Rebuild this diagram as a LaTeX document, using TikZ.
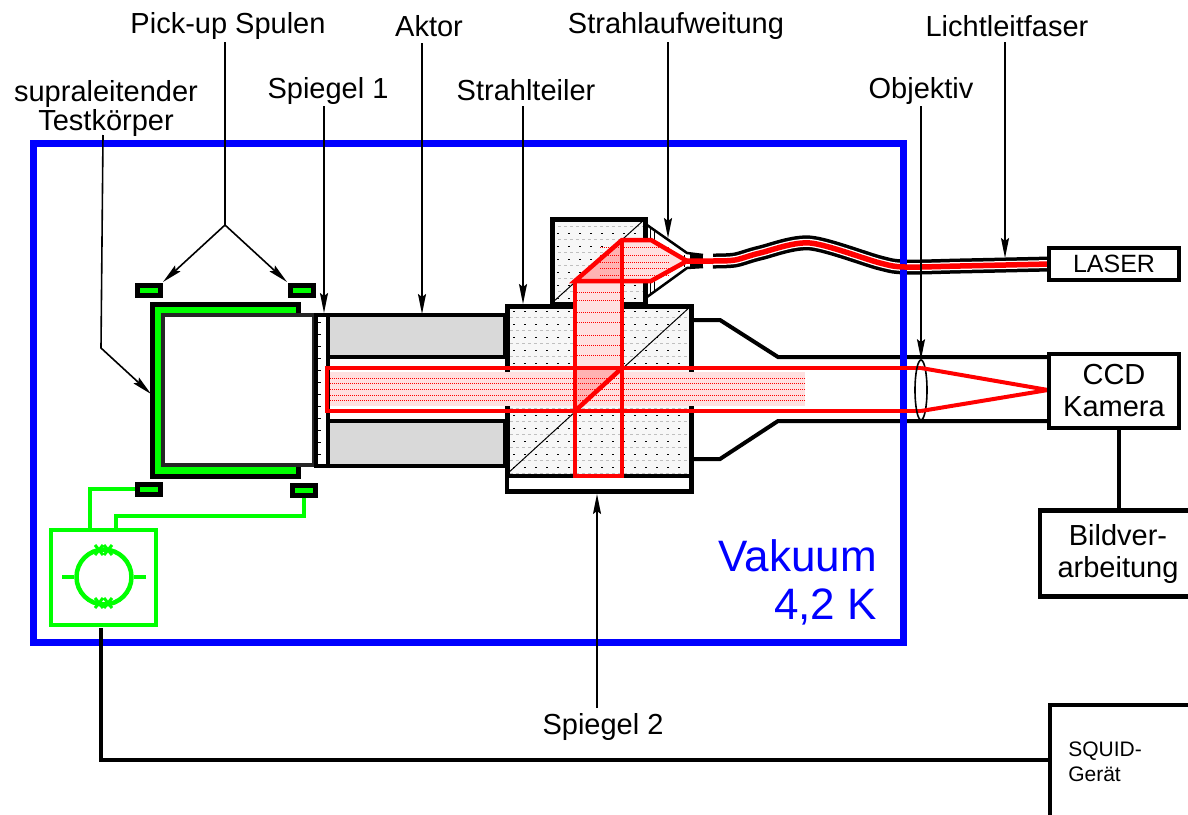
\documentclass[tikz,border=0pt]{standalone}
\usepackage{fontspec}
\setmainfont{Liberation Sans}
\usetikzlibrary{arrows.meta,shapes.geometric}
\definecolor{lasered}{RGB}{255,0,0}
\definecolor{coilgreen}{RGB}{0,255,0}
\definecolor{vacblue}{RGB}{0,0,255}
\begin{document}
\begin{tikzpicture}[
  x=1pt,y=-1pt,
  >={Stealth[length=20pt,width=8pt,inset=3pt]},
  lbl/.style={inner sep=0pt,font=\fontsize{29}{29}\selectfont,align=center},
  pointer/.style={line width=1.6pt},
  box/.style={draw,line width=4.5pt,fill=white,inner sep=0pt,align=center,font=\fontsize{29}{32}\selectfont},
  wall/.style={line width=4pt,black},
  glass/.style={draw=black,line width=5pt,fill=black!3,path picture={
    \foreach \yy in {220,233,...,490} {
      \draw[black,line width=0.9pt,dash pattern=on 2pt off 9pt] (480,\yy)--(720,\yy);
      \draw[black!25,line width=1pt,dash pattern=on 3pt off 3pt] (480,\yy+6.5)--(720,\yy+6.5);
    }}},
  beam/.style={lasered,line width=4.5pt,line join=miter},
  beamfill/.style={fill=lasered!12},
  beamrow/.style={lasered,line width=1pt,densely dotted},
  wire/.style={coilgreen,line width=4pt},
  coil/.style={draw=black,line width=5pt,fill=coilgreen,inner sep=0pt,minimum width=23pt,minimum height=10pt},
  fiber/.style={line join=round,line cap=butt}
]
\clip (0,0) rectangle (1188,814);
\fill[white] (0,0) rectangle (1188,814);

% labels
\node[lbl] (pickup) at (228,26) {Pick-up Spulen};
\node[lbl] (aktor) at (429,26) {Aktor};
\node[lbl] (aufweitung) at (676,26) {Strahlaufweitung};
\node[lbl] (faser) at (1007,26) {Lichtleitfaser};
\node[lbl] (testk) at (106,108) {supraleitender\\Testkörper};
\node[lbl] (spiegela) at (328,91) {Spiegel 1};
\node[lbl] (teiler) at (526,90) {Strahlteiler};
\node[lbl] (objektiv) at (921,91) {Objektiv};
\node[lbl] (spiegelb) at (603,727) {Spiegel 2};

% test body and pick-up coils
\draw[black,line width=5pt,fill=coilgreen] (152.5,304.5) rectangle (298,476);
\fill[white] (163,315) rectangle (314,465);
\draw[black!85,line width=4.5pt] (163,315) rectangle (314,465);
\node[coil] (coilTL) at (149,290.5) {};
\node[coil] (coilTR) at (302,290.5) {};
\node[coil] (coilBL) at (149,489) {};
\node[coil] (coilBR) at (304,490.5) {};

% actuator and mirror 1
\path[draw=black,line width=4pt,fill=black!15] (328,315) rectangle (505,357);
\path[draw=black,line width=4pt,fill=black!15] (328,421) rectangle (505,466);
\path[draw=black,line width=4pt,fill=white] (316,315) rectangle (328,466);
\foreach \yy in {322,334,...,460}
  \draw[black,line width=1pt,dash pattern=on 3pt off 9pt] (318,\yy)--(326,\yy);

% tube and cubes
\draw[wall] (693,320)--(720,320)--(778,357)--(1050,357);
\draw[wall] (693,459)--(720,459)--(778,421)--(1050,421);
\path[glass] (552,219) rectangle (645,304);
\draw[line width=1pt] (553,302)--(645,219);
\path[glass] (507,306) rectangle (691,491);
\path[draw=black,line width=4pt,fill=white] (507,476) rectangle (691,491);
\draw[line width=1pt] (507,474)--(691,306);

% beam expander
\draw[line width=2.5pt] (647,225)--(687,253)--(703,255);
\draw[line width=2.5pt] (647,297)--(687,268)--(703,267);
\draw[line width=1pt] (650,228)--(650,294) (654,231)--(654,291);
\draw[line width=1pt] (684,255)--(684,267);

% vacuum vessel
\draw[vacblue,line width=7pt] (33,143) rectangle (903,642);

% fibre
\draw[fiber,line width=14pt] (690,261)--(703,261);
\draw[fiber,line width=15pt] plot[smooth,tension=0.5] coordinates {(713,261) (735,260) (760,253) (810,243) (880,263) (905,267) (960,266) (1050,264)};
\draw[fiber,white,line width=8pt] plot[smooth,tension=0.5] coordinates {(713,261) (735,260) (760,253) (810,243) (880,263) (905,267) (960,266) (1050,264)};
\draw[vacblue,line width=7pt] (903,250)--(903,280);
\draw[fiber,lasered,line width=5.5pt] plot[smooth,tension=0.5] coordinates {(687,261) (713,261) (735,260) (760,253) (810,243) (880,263) (905,267) (960,266) (1050,264)};

% light path
\fill[beamfill] (330,372) rectangle (805,406);
\fill[beamfill] (577,283) rectangle (620,368);
\fill[beamfill] (622,240)--(651,242)--(685,261)--(651,280)--(577,280)--cycle;
\fill[lasered!30] (577,280)--(620,243)--(620,280)--cycle;
\fill[lasered!30] (577,409)--(620,370)--(577,370)--cycle;
\foreach \yy in {378,383,389,395,400}
  \draw[beamrow] (330,\yy)--(805,\yy);
\foreach \yy in {292,300,312,322,335,345,355}
  \draw[beamrow] (577,\yy)--(620,\yy);
\foreach \yy in {247,255,262,268,275}
  \draw[beamrow] (600,\yy)--(670,\yy);
\draw[beam] (327,368) rectangle (575,411);
\draw[beam] (575,368)--(921,368);
\draw[beam] (575,411)--(921,411);
\draw[beam] (575,411)--(622,368);
\draw[beam] (575,281)--(575,476)--(622,476)--(622,240);
\draw[beam] (575,281)--(622,240)--(651,240)--(687,261)--(651,281)--cycle;

% objective
\node[draw,ellipse,line width=1.6pt,inner sep=0pt,minimum width=12pt,minimum height=60pt] (lens) at (921,390) {};
\coordinate (focus) at (1048,390);
\draw[lasered,line width=4pt] (921,368)--(focus)--(921,411);

% instruments
\node[box,minimum width=130pt,minimum height=32pt,font=\fontsize{25}{25}\selectfont] (laser) at (1114,264) {LASER};
\node[box,minimum width=130pt,minimum height=74pt] (ccd) at (1114,391) {CCD\\Kamera};
\node[box,minimum width=156pt,minimum height=86pt] (bild) at (1118,553.5) {Bildver-\\arbeitung};
\node[box,minimum width=170pt,minimum height=122pt] (squid) at (1135,766) {};
\node[lbl,font=\fontsize{21}{25}\selectfont,align=left] (squidtxt) at (1105,762) {SQUID-\\Gerät};
\draw[wall] ([xshift=5pt]ccd.south)--([xshift=5pt]ccd.south|-bild.north);

% SQUID loop
\node[draw=coilgreen,line width=4pt,minimum width=105pt,minimum height=95pt,inner sep=0pt] (loopbox) at (103,577) {};
\node[circle,draw=coilgreen,line width=4.5pt,minimum size=55pt,inner sep=0pt] (ring) at (104,577) {};
\draw[wire,line width=3.5pt] (ring.west)--++(-12,0) (ring.east)--++(12,0);
\foreach \jx in {99,108}
  \foreach \jy in {550,603}
    \draw[wire,line width=3pt] (\jx-4,\jy-5)--(\jx+4,\jy+5) (\jx-4,\jy+5)--(\jx+4,\jy-5);
\draw[wire] (coilBL.west)-|(90,528);
\draw[wire] (coilBR.south)|-(116,516)--(116,528);
\coordinate (busknee) at (101,760);
\draw[wall] (101,628)--(busknee)--(squid.west|-busknee);

% pointers
\coordinate (fork) at (225,225);
\draw[pointer] (225,42)--(fork);
\draw[pointer,->] (fork)--(163,282);
\draw[pointer,->] (fork)--(287,282);
\coordinate (testknee) at (101,348);
\draw[pointer,->] (103,135)--(testknee)--(151,394);
\draw[pointer,->] (324,106)--(324,313);
\draw[pointer,->] (422,43)--(422,314);
\draw[pointer,->] (523,106)--(523,304);
\draw[pointer,->] (668,42)--(668,238);
\draw[pointer,->] (1005,42)--(1005,258);
\draw[pointer,->] (921,106)--(lens.north);
\draw[pointer,->] (597,708)--(597,494);

\node[lbl,text=vacblue,font=\fontsize{44}{48}\selectfont,align=right,anchor=south east] (vakuum) at (877,625) {Vakuum\\4,2 K};
\end{tikzpicture}
\end{document}
